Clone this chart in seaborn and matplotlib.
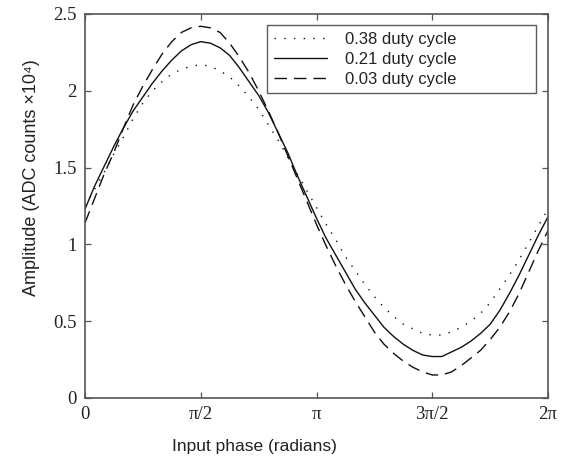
import numpy as np
import pandas as pd
import matplotlib
matplotlib.use("Agg")
import matplotlib.pyplot as plt
import seaborn as sns

# ---- data ----
phase = np.linspace(0, 2 * np.pi, 49)  # sampled every pi/24
dotted_038 = [1.25, 1.36, 1.47, 1.59, 1.70, 1.82, 1.92, 2.00, 2.06, 2.11,
              2.14, 2.16, 2.17, 2.16, 2.13, 2.09, 2.03, 1.96, 1.88, 1.78,
              1.68, 1.57, 1.46, 1.35, 1.24, 1.13, 1.03, 0.92, 0.83, 0.74,
              0.66, 0.59, 0.53, 0.48, 0.45, 0.42, 0.41, 0.41, 0.43, 0.46,
              0.50, 0.55, 0.62, 0.71, 0.80, 0.90, 1.01, 1.12, 1.23]
solid_021 = [1.23, 1.38, 1.51, 1.64, 1.76, 1.87, 1.96, 2.05, 2.13, 2.20,
             2.26, 2.30, 2.32, 2.31, 2.28, 2.23, 2.15, 2.06, 1.97, 1.86,
             1.73, 1.60, 1.45, 1.31, 1.17, 1.04, 0.93, 0.82, 0.71, 0.62,
             0.54, 0.46, 0.40, 0.35, 0.31, 0.28, 0.27, 0.27, 0.30, 0.33,
             0.37, 0.42, 0.48, 0.57, 0.68, 0.80, 0.93, 1.06, 1.18]
dashed_003 = [1.14, 1.30, 1.46, 1.60, 1.76, 1.91, 2.03, 2.14, 2.24, 2.32,
              2.38, 2.41, 2.42, 2.41, 2.38, 2.31, 2.22, 2.12, 2.00, 1.87,
              1.73, 1.58, 1.43, 1.28, 1.13, 0.99, 0.86, 0.74, 0.63, 0.53,
              0.43, 0.35, 0.29, 0.24, 0.20, 0.17, 0.15, 0.15, 0.17, 0.21,
              0.26, 0.31, 0.38, 0.46, 0.56, 0.68, 0.82, 0.96, 1.09]
series_names = ["0.38 duty cycle", "0.21 duty cycle", "0.03 duty cycle"]
xtick_vals = [0, np.pi / 2, np.pi, 3 * np.pi / 2, 2 * np.pi]
xtick_labels = ["0", "π/2", "π", "3π/2", "2π"]
ytick_vals = [0, 0.5, 1, 1.5, 2, 2.5]
ytick_labels = ["0", "0.5", "1", "1.5", "2", "2.5"]

df = pd.concat([
    pd.DataFrame({"phase": phase, "amp": vals, "series": name})
    for name, vals in zip(series_names, [dotted_038, solid_021, dashed_003])
], ignore_index=True)

sns.set_theme(style="white")
plt.rcParams["font.family"] = ["Liberation Sans", "DejaVu Sans"]

fig = plt.figure(figsize=(5.68, 4.58), dpi=100)
ax = fig.add_axes([85 / 568, 60 / 458, 463 / 568, 384 / 458])

dash_map = {series_names[0]: (1, 6), series_names[1]: "", series_names[2]: (9, 5)}
sns.lineplot(data=df, x="phase", y="amp", style="series", style_order=series_names,
             dashes=dash_map, color="#111111", linewidth=1.0, legend=False, ax=ax)

serif = ["Liberation Serif", "DejaVu Serif"]
ax.set_xlim(0, 2 * np.pi)
ax.set_ylim(0, 2.5)
ax.set_xticks(xtick_vals)
ax.set_xticklabels(xtick_labels, family=serif, fontsize=13.5, color="#222222")
ax.set_yticks(ytick_vals)
ax.set_yticklabels(ytick_labels, family=serif, fontsize=13.5, color="#222222")
ax.tick_params(direction="in", length=4, width=0.9, color="#555555", top=True, right=True,
               bottom=True, left=True, pad=6)

for sp in ax.spines.values():
    sp.set_visible(True)
    sp.set_color("#555555")
    sp.set_linewidth(1.2)

ax.set_xlabel("Input phase (radians)", fontsize=12.5, color="#222222",
              family=["Liberation Sans", "DejaVu Sans"])
ax.xaxis.set_label_coords(0.367, -0.106)
ax.set_ylabel("Amplitude (ADC counts ×10⁴)", fontsize=13, color="#222222",
              family=["Liberation Sans", "DejaVu Sans"])
ax.yaxis.set_label_coords(-0.097, 0.575)

handles = ax.get_lines()[:3]
leg = ax.legend(handles, series_names, loc="upper left",
                bbox_to_anchor=(0.393, 0.80, 0.581, 0.171), mode="expand",
                borderaxespad=0, fontsize=12, handlelength=3.2, handletextpad=1.1,
                labelspacing=0.3, frameon=True, fancybox=False, borderpad=0.4)
leg.get_frame().set_edgecolor("#333333")
leg.get_frame().set_linewidth(1.0)
for t in leg.get_texts():
    t.set_color("#222222")

fig.savefig("out.png", dpi=100, facecolor="white")
